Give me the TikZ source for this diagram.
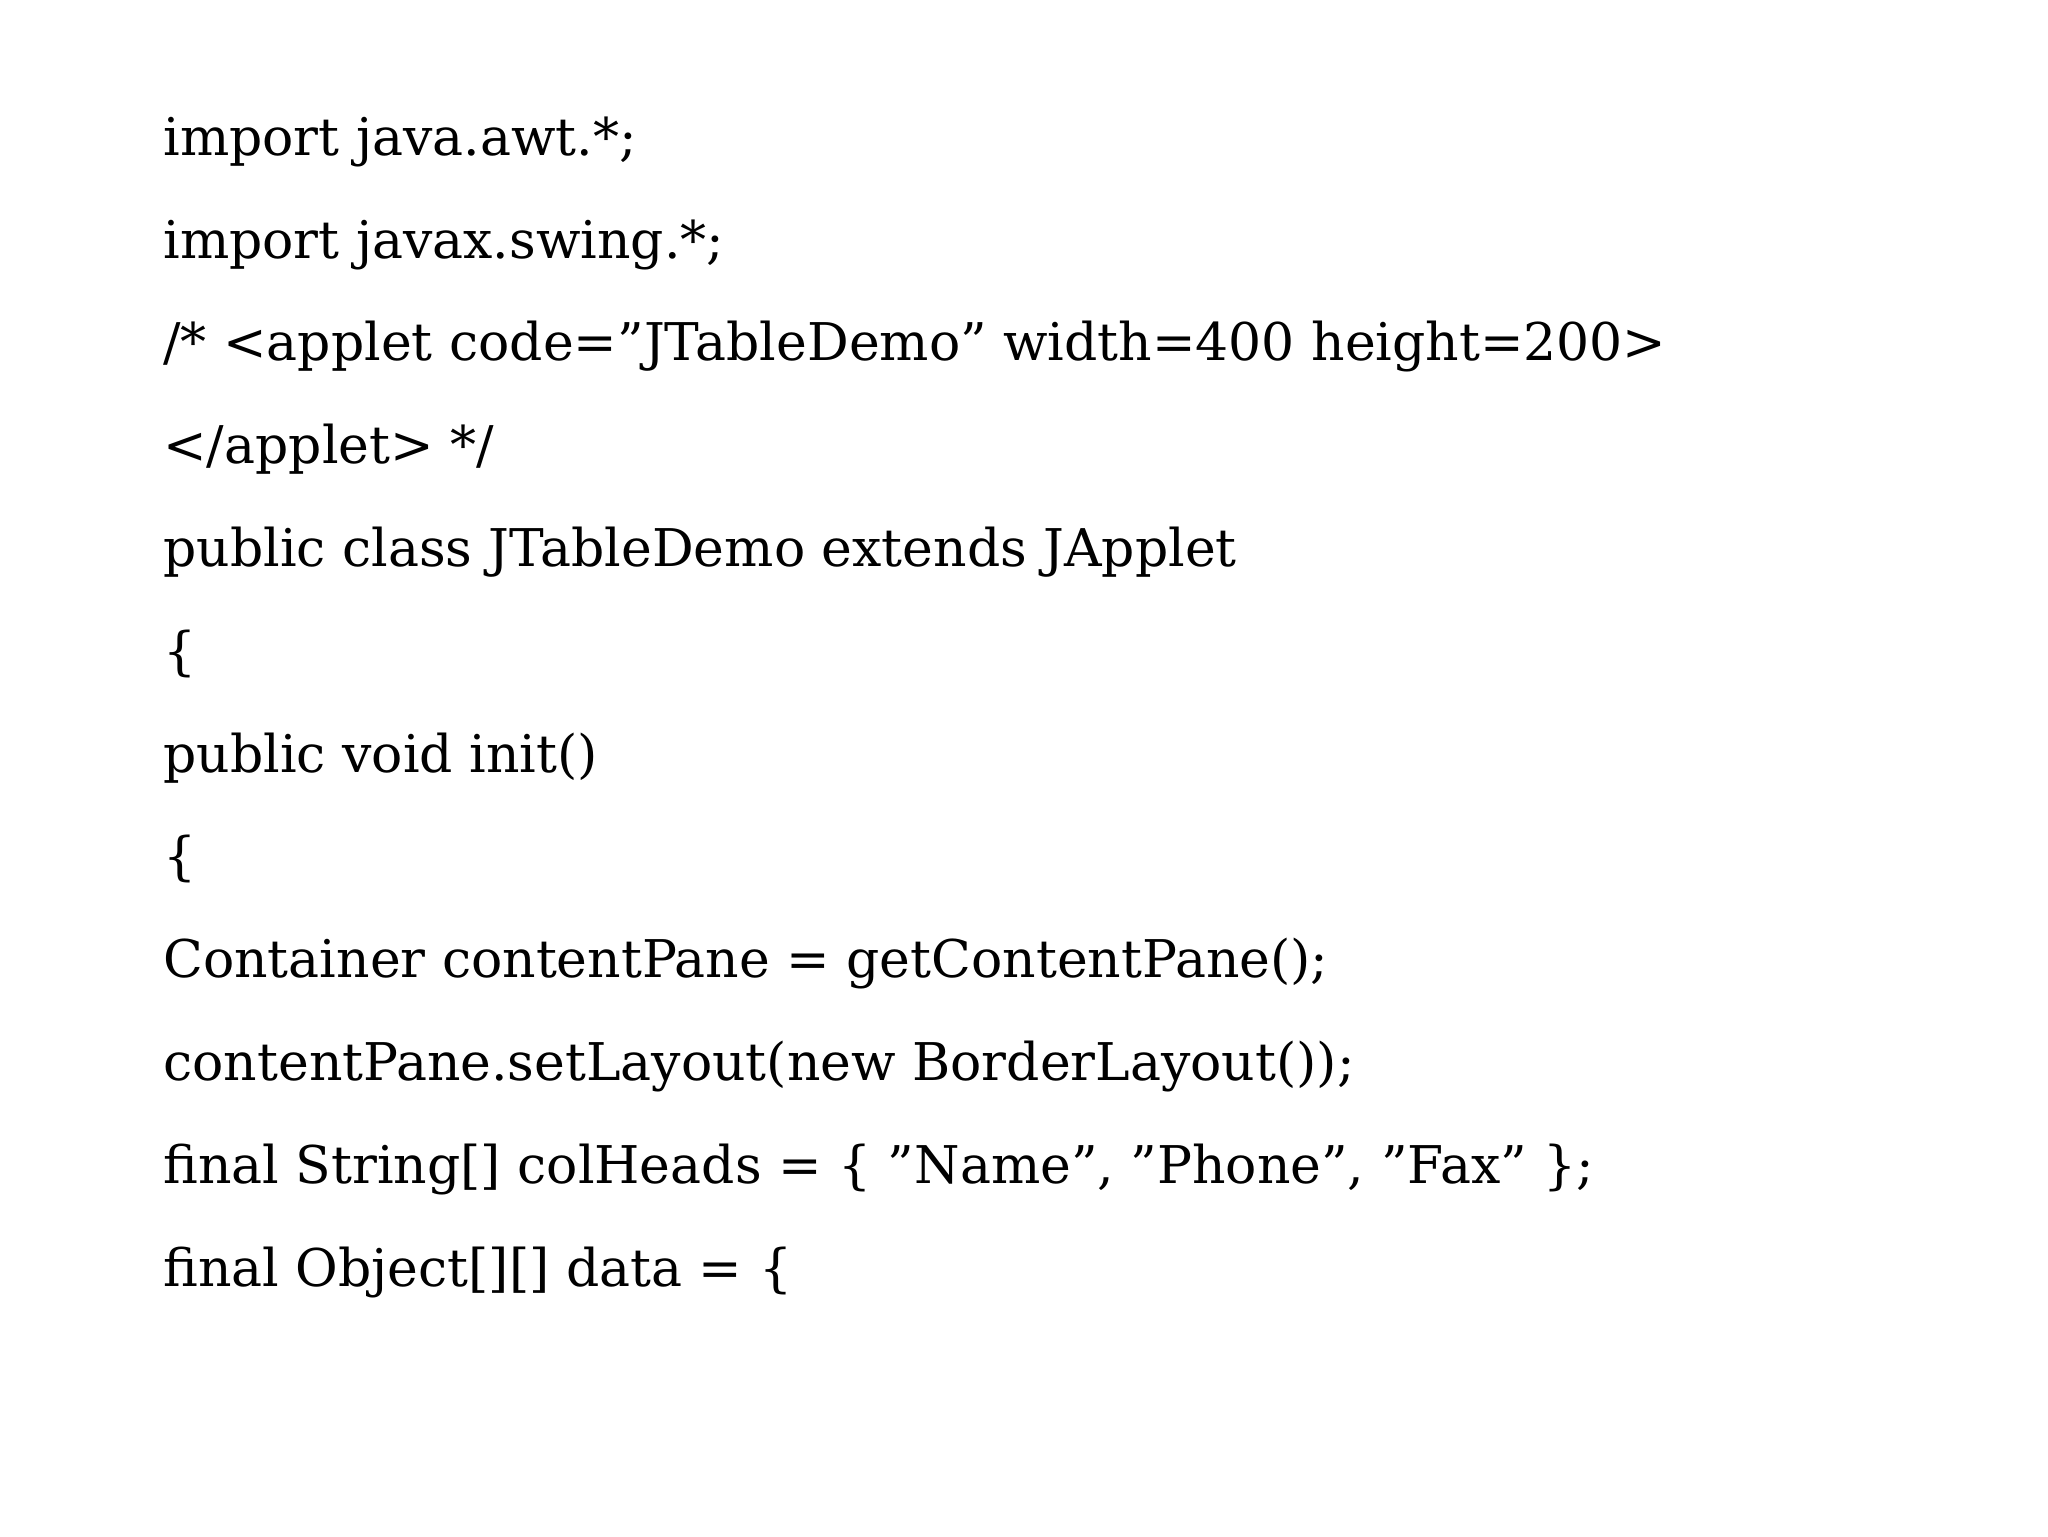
\documentclass[tikz,border=0pt]{standalone}
\usepackage{fontspec}
\setmainfont{DejaVu Serif}
\begin{document}
\begin{tikzpicture}[x=1pt,y=1pt,code/.style={anchor=base west,inner sep=0pt,font=\fontsize{26}{30}\selectfont}]
\useasboundingbox (0,0) rectangle (1024,-768);
\foreach \t [count=\i] in {%
{import java.awt.*;},
{import javax.swing.*;},
{/* <applet code="JTableDemo" width=400 height=200>},
{</applet> */},
{public class JTableDemo extends JApplet},
{\{},
{public void init()},
{\{},
{Container contentPane = getContentPane();},
{contentPane.setLayout(new BorderLayout());},
{final String[] colHeads = \{ "Name", "Phone", "Fax" \};},
{final Object[][] data = \{}}
  \node[code] (l\i) at (81.5,{-77.6-51.4*(\i-1)}) {\t};
\end{tikzpicture}
\end{document}
